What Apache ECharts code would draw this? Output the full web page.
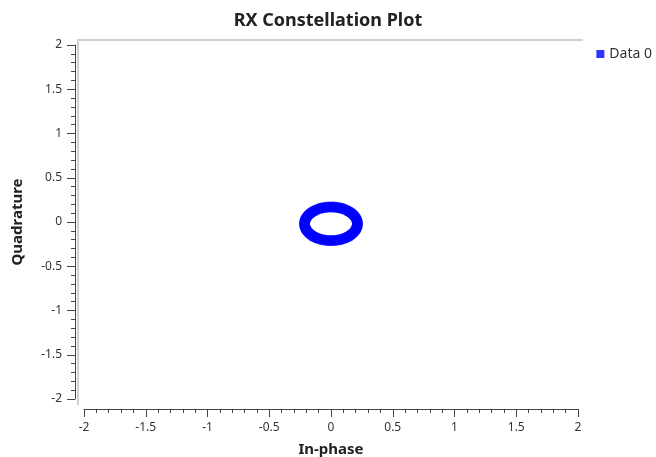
<!DOCTYPE html>
<html>
<head>
<meta charset="utf-8">
<script src="https://cdn.jsdelivr.net/npm/echarts@6/dist/echarts.min.js"></script>
<style>
  html, body { margin: 0; padding: 0; background: #fff; }
  #main { width: 656px; height: 457px; }
</style>
</head>
<body>
<div id="main"></div>
<script>
// constellation samples (In-phase, Quadrature)
var inPhase = [
  0.214, 0.213, 0.209, 0.204, 0.195, 0.185, 0.173, 0.159, 0.143, 0.126,
  0.107, 0.087, 0.066, 0.044, 0.022, 0.000, -0.022, -0.044, -0.066, -0.087,
  -0.107, -0.126, -0.143, -0.159, -0.173, -0.185, -0.195, -0.204, -0.209, -0.213,
  -0.214, -0.213, -0.209, -0.204, -0.195, -0.185, -0.173, -0.159, -0.143, -0.126,
  -0.107, -0.087, -0.066, -0.044, -0.022, 0.000, 0.022, 0.044, 0.066, 0.087,
  0.107, 0.126, 0.143, 0.159, 0.173, 0.185, 0.195, 0.204, 0.209, 0.213
];
var quadrature = [
  -0.020, 0.000, 0.020, 0.039, 0.057, 0.075, 0.092, 0.107, 0.121, 0.134,
  0.145, 0.154, 0.161, 0.166, 0.169, 0.170, 0.169, 0.166, 0.161, 0.154,
  0.145, 0.134, 0.121, 0.107, 0.092, 0.075, 0.057, 0.039, 0.020, 0.000,
  -0.020, -0.040, -0.060, -0.079, -0.097, -0.115, -0.132, -0.147, -0.161, -0.174,
  -0.185, -0.194, -0.201, -0.206, -0.209, -0.210, -0.209, -0.206, -0.201, -0.194,
  -0.185, -0.174, -0.161, -0.147, -0.132, -0.115, -0.097, -0.079, -0.060, -0.040
];
var axisMin = -2;
var axisMax = 2;
var axisStep = 0.5;

var points = inPhase.map(function (x, i) { return [x, quadrature[i]]; });

var font = 'Noto Sans';
var axisCol = '#444';

function makeAxis(name, gap, offset, rotate) {
  return {
    type: 'value',
    min: axisMin,
    max: axisMax,
    interval: axisStep,
    name: name,
    nameLocation: 'middle',
    nameGap: gap,
    nameRotate: rotate,
    nameTextStyle: { fontFamily: font, fontWeight: 'bold', fontSize: 15, color: '#222' },
    offset: offset,
    axisLine: { show: true, onZero: false, lineStyle: { color: axisCol, width: 1 } },
    axisTick: { show: true, length: 8, lineStyle: { color: axisCol } },
    minorTick: { show: true, splitNumber: 5, length: 4, lineStyle: { color: axisCol } },
    axisLabel: { fontFamily: font, fontSize: 12, color: '#333', margin: 13 },
    splitLine: { show: false }
  };
}

var chart = echarts.init(document.getElementById('main'));
chart.setOption({
  animation: false,
  title: {
    text: 'RX Constellation Plot',
    left: 'center',
    top: 7,
    textStyle: { fontFamily: font, fontWeight: 'bold', fontSize: 18, color: '#222' }
  },
  legend: {
    right: -1,
    top: 42,
    icon: 'rect',
    itemWidth: 8,
    itemHeight: 8,
    itemGap: 6,
    textStyle: { fontFamily: font, fontSize: 14, color: '#333' },
    data: ['Data 0']
  },
  grid: { left: 84, right: 78, top: 45, bottom: 58, outerBoundsMode: 'none' },
  xAxis: makeAxis('In-phase', 33, 10, 0),
  yAxis: makeAxis('Quadrature', 50, 9, 90),
  graphic: [{
    type: 'polyline',
    silent: true,
    shape: { points: [[78, 405], [78, 40], [583, 40]] },
    style: { stroke: '#cfcfcf', lineWidth: 2, fill: null }
  }],
  series: [{
    name: 'Data 0',
    type: 'scatter',
    symbol: 'circle',
    symbolSize: 11,
    itemStyle: { color: '#0000ff' },
    data: points
  }]
});
</script>
</body>
</html>
